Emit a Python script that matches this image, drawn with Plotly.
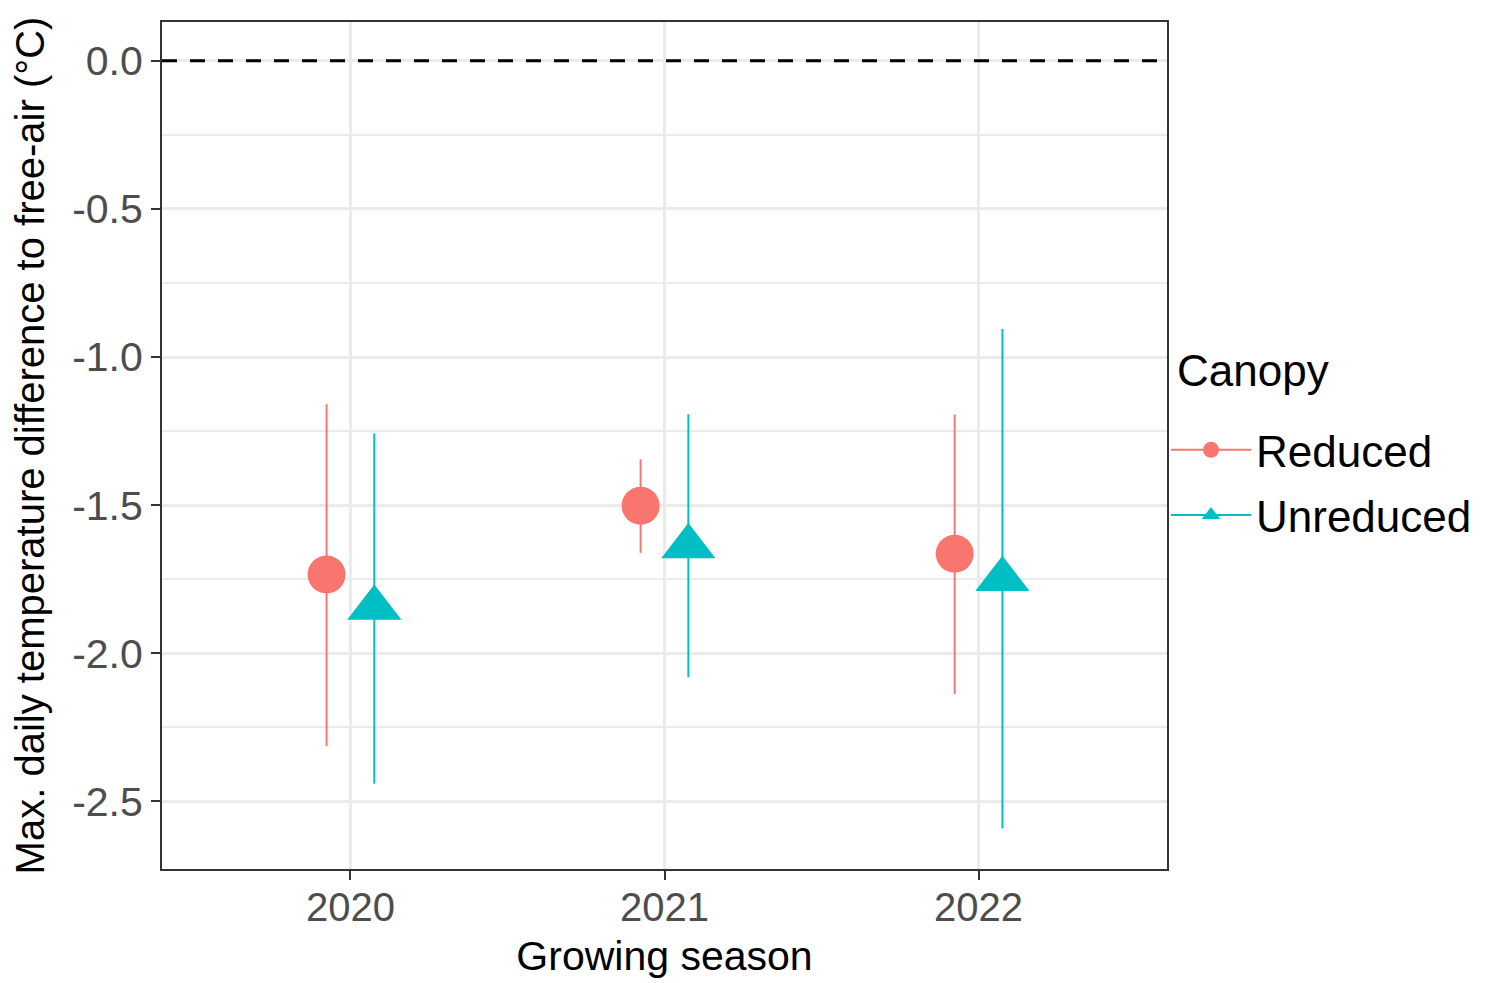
import plotly.graph_objects as go

# ---- data ----
seasons = ["2020", "2021", "2022"]
groups = ["Reduced", "Unreduced"]
reduced_mean = [-1.734, -1.502, -1.664]
reduced_low = [-2.313, -1.661, -2.137]
reduced_high = [-1.159, -1.345, -1.194]
unreduced_mean = [-1.847, -1.639, -1.750]
unreduced_low = [-2.440, -2.081, -2.591]
unreduced_high = [-1.258, -1.193, -0.905]
ytick_vals = [0.0, -0.5, -1.0, -1.5, -2.0, -2.5]
ytick_text = ["0.0", "-0.5", "-1.0", "-1.5", "-2.0", "-2.5"]

colors = {"Reduced": "#F8766D", "Unreduced": "#00BFC4"}
symbols = {"Reduced": "circle", "Unreduced": "triangle-up"}
sizes = {"Reduced": 38, "Unreduced": 47}
dodge = {"Reduced": -0.076, "Unreduced": 0.076}
series = {
    "Reduced": (reduced_mean, reduced_low, reduced_high),
    "Unreduced": (unreduced_mean, unreduced_low, unreduced_high),
}

FONT = "Liberation Sans, Arial, sans-serif"

fig = go.Figure()
for g in groups:
    mean, low, high = series[g]
    xs, ys, ep, em = [], [], [], []
    for i, (m, lo, hi) in enumerate(zip(mean, low, high)):
        if i > 0:
            xs.append(None); ys.append(None); ep.append(None); em.append(None)
        xs.append(i + 1 + dodge[g])
        ys.append(m)
        ep.append(hi - m)
        em.append(m - lo)
    fig.add_trace(go.Scatter(
        x=xs, y=ys, name=g, mode="lines+markers", connectgaps=False,
        legendgroup=g,
        line=dict(color=colors[g], width=2),
        marker=dict(symbol=symbols[g], size=sizes[g], color=colors[g],
                    line=dict(width=0)),
        error_y=dict(type="data", symmetric=False, array=ep, arrayminus=em,
                     color=colors[g], thickness=2, width=0),
    ))

fig.add_hline(y=0, line=dict(color="black", width=3, dash="15px,13px"))

fig.add_annotation(
    text="Canopy", xref="paper", yref="paper", x=1.008, y=0.5885,
    xanchor="left", yanchor="middle", showarrow=False,
    font=dict(size=44, color="black", family=FONT),
)

fig.update_layout(
    width=1483, height=975,
    margin=dict(l=154, r=324, t=12, b=112),
    paper_bgcolor="white", plot_bgcolor="white",
    font=dict(family=FONT, color="black"),
    legend=dict(
        font=dict(size=44, color="black"),
        x=0.999, xanchor="left", y=0.456, yanchor="middle",
        bgcolor="rgba(0,0,0,0)", itemwidth=80,
        traceorder="grouped", tracegroupgap=5,
    ),
    showlegend=True,
)
fig.update_xaxes(
    range=[0.4, 3.6], tickmode="array", tickvals=[1, 2, 3], ticktext=seasons,
    showgrid=True, gridcolor="#EBEBEB", gridwidth=3,
    showline=True, linecolor="#333333", linewidth=2, mirror=True,
    ticks="outside", ticklen=9, tickwidth=2, tickcolor="#333333",
    ticklabelstandoff=-7,
    tickfont=dict(size=40, color="#4D4D4D"),
    title=dict(text="Growing season", font=dict(size=41, color="black"), standoff=13),
    zeroline=False,
)
fig.update_yaxes(
    range=[-2.728, 0.131], tickmode="array", tickvals=ytick_vals, ticktext=ytick_text,
    showgrid=True, gridcolor="#EBEBEB", gridwidth=3,
    minor=dict(tickmode="array", tickvals=[-0.25, -0.75, -1.25, -1.75, -2.25],
               showgrid=True, gridcolor="#EBEBEB", gridwidth=1.5, ticks=""),
    showline=True, linecolor="#333333", linewidth=2, mirror=True,
    ticks="outside", ticklen=9, tickwidth=2, tickcolor="#333333",
    tickfont=dict(size=41, color="#4D4D4D"),
    title=dict(text="Max. daily temperature difference to free-air (°C)",
               font=dict(size=40, color="black"), standoff=16),
    zeroline=False,
)

fig.write_html("out.html")
